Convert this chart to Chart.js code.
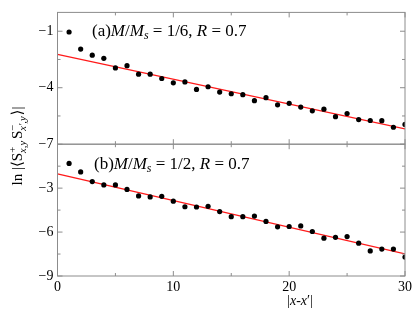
<!DOCTYPE html>
<html><head><meta charset="utf-8">
<script src="https://cdn.jsdelivr.net/npm/chart.js@4"></script>
<style>html,body{margin:0;padding:0;background:#fff}canvas{display:block}</style></head>
<body>
<canvas id="c" width="415" height="312" style="width:415px;height:312px"></canvas>
<script>
const distances = [1,2,3,4,5,6,7,8,9,10,11,12,13,14,15,16,17,18,19,20,21,22,23,24,25,26,27,28,29,30];
const corrA = [-1.04,-1.95,-2.27,-2.44,-2.95,-2.83,-3.28,-3.28,-3.51,-3.74,-3.69,-4.09,-3.95,-4.23,-4.32,-4.37,-4.69,-4.53,-4.91,-4.83,-5.03,-5.23,-5.14,-5.54,-5.37,-5.69,-5.74,-5.75,-6.10,-5.95];
const corrB = [-1.31,-1.89,-2.55,-2.78,-2.78,-3.09,-3.53,-3.60,-3.56,-3.89,-4.27,-4.29,-4.24,-4.60,-4.95,-4.95,-4.91,-5.27,-5.64,-5.62,-5.58,-5.96,-6.42,-6.36,-6.31,-6.76,-7.29,-7.16,-7.16,-7.71];
const fitX = [0,30];
const fitA = [-2.23,-6.19];
const fitB = [-2.02,-7.49];
const xTicks = [0,10,20,30];
const xMinor = [5,15,25];
const yTicksA = [-7,-4,-1];
const yMinorA = [-5.5,-2.5];
const yTicksB = [-9,-6,-3];
const yMinorB = [-7.5,-4.5,-1.5];

const SERIF = '"Liberation Serif","DejaVu Serif",serif';
const fmt = v => (v < 0 ? '\u2212' + Math.abs(v) : String(v));
const pts = (xs, ys) => xs.map((x, i) => ({x: x, y: ys[i]}));

function richText(ctx, segs, x, y, size) {
  let cx = x;
  for (const s of segs) {
    const sz = s.small ? size * 0.7 : size;
    ctx.font = (s.it ? 'italic ' : '') + sz + 'px ' + SERIF;
    ctx.fillText(s.t, cx, y + (s.dy || 0));
    cx += ctx.measureText(s.t).width + (s.gap || 0);
  }
  return cx - x;
}
function richWidth(ctx, segs, size) {
  let w = 0;
  for (const s of segs) {
    const sz = s.small ? size * 0.7 : size;
    ctx.font = (s.it ? 'italic ' : '') + sz + 'px ' + SERIF;
    w += ctx.measureText(s.t).width + (s.gap || 0);
  }
  return w;
}

const decor = {
  id: 'decor',
  afterDraw(chart) {
    const ctx = chart.ctx;
    const xs = chart.scales.x;
    const L = xs.left, R = xs.right;
    ctx.save();
    ctx.strokeStyle = '#8c8c8c';
    ctx.lineWidth = 1;
    for (const [id, maj, mi] of [['yA', yTicksA, yMinorA], ['yB', yTicksB, yMinorB]]) {
      const ys = chart.scales[id];
      const T = ys.top, B = ys.bottom;
      ctx.strokeRect(L, T, R - L, B - T);
      ctx.beginPath();
      for (const v of maj.concat(mi)) {
        const p = ys.getPixelForValue(v);
        const len = maj.includes(v) ? 5 : 3;
        ctx.moveTo(L, p); ctx.lineTo(L + len, p);
        ctx.moveTo(R, p); ctx.lineTo(R - len, p);
      }
      for (const v of xTicks.concat(xMinor)) {
        const p = xs.getPixelForValue(v);
        const len = xTicks.includes(v) ? 5 : 3;
        ctx.moveTo(p, T); ctx.lineTo(p, T + len);
        ctx.moveTo(p, B); ctx.lineTo(p, B - len);
      }
      ctx.stroke();
    }
    ctx.fillStyle = '#000';
    ctx.textBaseline = 'alphabetic';
    ctx.textAlign = 'left';
    const size = 17;
    const segA = [{t:'(a)'},{t:'M',it:1},{t:'/'},{t:'M',it:1},{t:'s',it:1,small:1,dy:3},{t:' = 1/6, '},{t:'R',it:1},{t:' = 0.7'}];
    const segB = [{t:'(b)'},{t:'M',it:1},{t:'/'},{t:'M',it:1},{t:'s',it:1,small:1,dy:3},{t:' = 1/2, '},{t:'R',it:1},{t:' = 0.7'}];
    richText(ctx, segA, 92, 36, size);
    richText(ctx, segB, 94, 169, size);
    // x title
    const segX = [{t:'|'},{t:'x',it:1},{t:'-'},{t:'x',it:1},{t:'\u2032|'}];
    const wx = richWidth(ctx, segX, 14);
    richText(ctx, segX, 300 - wx / 2, 305, 14);
    // y title
    const segY = [{t:'ln |\u27E8S'},{t:'+',small:1,dy:-6,gap:-6},{t:'x,y',it:1,small:1,dy:4,gap:2},{t:'S'},{t:'\u2212',small:1,dy:-6,gap:-6},{t:'x\u2032,y',it:1,small:1,dy:4,gap:1},{t:'\u27E9|'}];
    const wy = richWidth(ctx, segY, 15);
    ctx.translate(22, 146);
    ctx.rotate(-Math.PI / 2);
    richText(ctx, segY, -wy / 2, 0, 15);
    ctx.restore();
  }
};

const tickFont = {family: SERIF, size: 14};
new Chart(document.getElementById('c'), {
  type: 'scatter',
  data: {
    datasets: [
      {data: pts(distances, corrA), yAxisID: 'yA', backgroundColor: '#000', borderColor: '#000', pointRadius: 2.6, pointBorderWidth: 0},
      {data: pts(distances, corrB), yAxisID: 'yB', backgroundColor: '#000', borderColor: '#000', pointRadius: 2.6, pointBorderWidth: 0},
      {type: 'line', data: pts(fitX, fitA), yAxisID: 'yA', borderColor: '#ff1a1a', borderWidth: 1.3, pointRadius: 0, fill: false},
      {type: 'line', data: pts(fitX, fitB), yAxisID: 'yB', borderColor: '#ff1a1a', borderWidth: 1.3, pointRadius: 0, fill: false}
    ]
  },
  options: {
    responsive: false,
    animation: false,
    layout: {padding: {top: 9.5, right: 8, left: 0, bottom: 0}},
    plugins: {legend: {display: false}, tooltip: {enabled: false}},
    scales: {
      x: {
        type: 'linear', min: 0, max: 30,
        grid: {display: false, drawTicks: false}, border: {display: false},
        ticks: {font: tickFont, color: '#000', padding: 3, callback: fmt},
        afterBuildTicks: s => { s.ticks = xTicks.map(v => ({value: v})); },
        afterFit: s => { s.height = 36; }
      },
      yB: {
        type: 'linear', min: -9, max: 0, position: 'left', stack: 'p', stackWeight: 1,
        grid: {display: false, drawTicks: false}, border: {display: false},
        ticks: {font: tickFont, color: '#000', padding: 4, callback: fmt},
        afterBuildTicks: s => { s.ticks = yTicksB.map(v => ({value: v})); },
        afterFit: s => { s.width = 57.5; }
      },
      yA: {
        type: 'linear', min: -7, max: 0, position: 'left', stack: 'p', stackWeight: 1,
        grid: {display: false, drawTicks: false}, border: {display: false},
        ticks: {font: tickFont, color: '#000', padding: 4, callback: fmt},
        afterBuildTicks: s => { s.ticks = yTicksA.map(v => ({value: v})); },
        afterFit: s => { s.width = 57.5; }
      }
    }
  },
  plugins: [decor]
});
</script>
</body></html>
